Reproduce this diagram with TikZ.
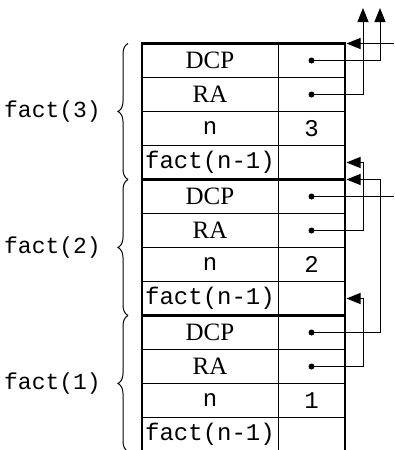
\documentclass[tikz,border=0pt]{standalone}
\usepackage{fontspec}
\setmainfont{Liberation Serif}
\setmonofont{Liberation Mono}
\usetikzlibrary{positioning,arrows.meta,calc,decorations.pathreplacing}
\tikzset{
  namecell/.style={draw, line width=1pt, minimum width=136pt, minimum height=34pt, inner sep=0pt, outer sep=0pt, font=\fontsize{25}{28}\selectfont},
  valcell/.style={namecell, minimum width=67pt},
  codetext/.style={font=\fontsize{24}{27}\selectfont\ttfamily},
  framewall/.style={line width=2.8pt},
  pointer/.style={-{Triangle[length=14pt,width=11pt]}, line width=1pt},
  plainlink/.style={line width=1pt},
  framebrace/.style={decorate, decoration={brace, amplitude=10pt, raise=14pt}, line width=1pt},
  framelabel/.style={font=\fontsize{23}{26}\selectfont\ttfamily, inner sep=0pt}
}
\begin{document}
\begin{tikzpicture}[x=1pt, y=-1pt]
  \useasboundingbox (0,0) rectangle (394,450);
  % one activation record per call
  \foreach \fr/\top in {3/43.5, 2/179.5, 1/315.5} {
    \node[namecell, anchor=north west] (dcp\fr) at (142,\top) {DCP};
    \node[namecell, below=0pt of dcp\fr] (ra\fr) {RA};
    \node[namecell, codetext, below=0pt of ra\fr] (n\fr) {n};
    \node[namecell, codetext, below=0pt of n\fr] (fn\fr) {fact(n-1)};
    \node[valcell, right=0pt of dcp\fr] (dcpv\fr) {};
    \node[valcell, right=0pt of ra\fr] (rav\fr) {};
    \node[valcell, codetext, right=0pt of n\fr] (nv\fr) {\fr};
    \node[valcell, right=0pt of fn\fr] (fnv\fr) {};
    \fill (dcpv\fr.center) circle (3);
    \fill (rav\fr.center) circle (3);
    \draw[framebrace] (fn\fr.south west) -- (dcp\fr.north west);
    \path (fn\fr.south west) -- coordinate[midway] (mid\fr) (dcp\fr.north west);
    \node[framelabel, left=41pt of mid\fr] {fact(\fr)};
    \draw[framewall] (dcp\fr.north west) -- (dcpv\fr.north east);
  }
  % outer walls of the stack
  \draw[framewall] (fn1.south west) -- (dcp3.north west) -- (dcpv3.north east) -- (fnv1.south east);
  % free ends
  \coordinate (up1) at (363,8);
  \coordinate (up2) at (380,8);
  \coordinate (edge) at (394,0);
  % links
  \draw[pointer] (dcpv3.center) -| (up2);
  \draw[pointer] (rav3.center) -| (up1);
  \draw[pointer] (dcpv3.north east -| edge) -- ($(dcpv3.north east)+(1.5,0)$);
  \draw[plainlink] (dcpv2.center) -- (dcpv2.center -| edge);
  \draw[pointer] (rav2.center) -| (fnv3.east -| up1) -- ($(fnv3.east)+(1.5,0)$);
  \draw[pointer] (dcpv1.center) -| (dcpv2.north east -| up2) -- ($(dcpv2.north east)+(1.5,0)$);
  \draw[pointer] (rav1.center) -| (fnv2.east -| up1) -- ($(fnv2.east)+(1.5,0)$);
\end{tikzpicture}
\end{document}
